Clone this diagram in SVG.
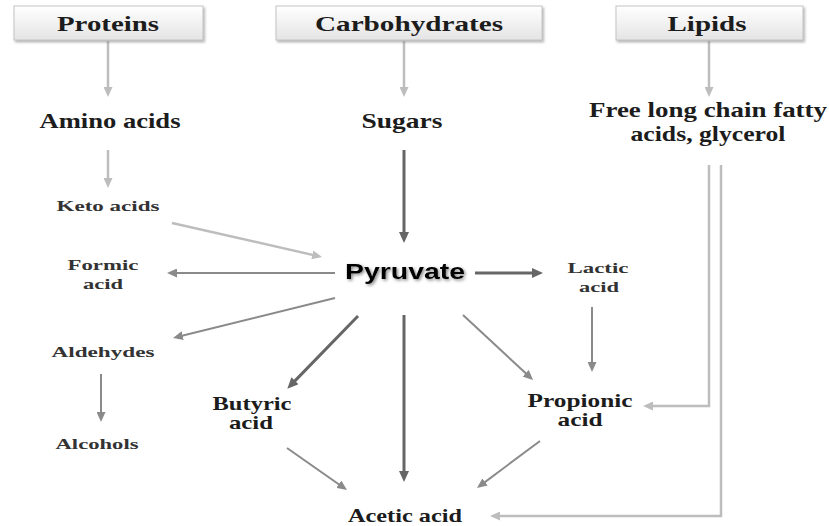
<svg xmlns="http://www.w3.org/2000/svg" width="829" height="526" viewBox="0 0 829 526">
<defs>
<linearGradient id="boxg" x1="0" y1="0" x2="0" y2="1">
<stop offset="0" stop-color="#ffffff"/>
<stop offset="1" stop-color="#e4e4e4"/>
</linearGradient>
<filter id="bshadow" x="-5%" y="-20%" width="110%" height="150%">
<feDropShadow dx="1.5" dy="2" stdDeviation="1.2" flood-color="#888" flood-opacity="0.6"/>
</filter>
<filter id="tshadow" x="-10%" y="-30%" width="120%" height="160%">
<feDropShadow dx="1.5" dy="1.5" stdDeviation="1.5" flood-color="#555" flood-opacity="0.7"/>
</filter>
<marker id="aL" markerUnits="userSpaceOnUse" markerWidth="10" markerHeight="9" refX="6" refY="4.5" orient="auto"><path d="M0,0 L10,4.5 L0,9 z" fill="#bdbdbd"/></marker>
<marker id="aM" markerUnits="userSpaceOnUse" markerWidth="10" markerHeight="9" refX="6" refY="4.5" orient="auto"><path d="M0,0 L10,4.5 L0,9 z" fill="#8a8a8a"/></marker>
<marker id="aD" markerUnits="userSpaceOnUse" markerWidth="11" markerHeight="10" refX="6" refY="5" orient="auto"><path d="M0,0 L11,5 L0,10 z" fill="#666"/></marker>
</defs>
<style>
.box{fill:url(#boxg);stroke:#c4c4c4;stroke-width:1;filter:url(#bshadow)}
.t{font-family:"Liberation Serif","Times New Roman",serif;font-weight:bold;fill:#1c1c1c;text-anchor:middle}
.big{font-size:22px}
.mid{font-size:19px}
.sm{font-size:15px;fill:#333}
.py{font-family:"Liberation Sans",Arial,sans-serif;font-weight:bold;font-size:22px;fill:#000;text-anchor:middle;filter:url(#tshadow)}
.cL{stroke:#bdbdbd;stroke-width:2.5;fill:none;marker-end:url(#aL)}
.cM{stroke:#8a8a8a;stroke-width:2;fill:none;marker-end:url(#aM)}
.cD{stroke:#666;stroke-width:3;fill:none;marker-end:url(#aD)}
</style>

<g id="connectors">
<line class="cL" x1="108" y1="41" x2="108" y2="93"/>
<line class="cL" x1="404" y1="41" x2="404" y2="93"/>
<line class="cL" x1="709" y1="41" x2="709" y2="93"/>
<line class="cL" x1="108" y1="150" x2="108" y2="184"/>
<line class="cL" x1="172" y1="223" x2="318.1" y2="256.1"/>
<path class="cL" stroke-width="2" d="M709,165 V406 H647"/>
<path class="cL" stroke-width="2" d="M721,165 V516 H494"/>
<line class="cM" x1="335" y1="273" x2="171" y2="273"/>
<line class="cM" x1="335" y1="298" x2="176.9" y2="337"/>
<line class="cM" x1="101" y1="374" x2="101" y2="418"/>
<line class="cM" x1="592" y1="307" x2="592" y2="368"/>
<line class="cM" x1="463" y1="315" x2="530.1" y2="377.3"/>
<line class="cM" x1="287" y1="448" x2="343.7" y2="487.7"/>
<line class="cM" x1="540" y1="441" x2="480.2" y2="485.6"/>
<line class="cD" x1="404" y1="150" x2="404" y2="238"/>
<line class="cD" x1="475" y1="273" x2="538" y2="273"/>
<line class="cD" x1="358" y1="316" x2="290.8" y2="385.1"/>
<line class="cD" x1="404" y1="315" x2="404" y2="477"/>
</g>

<g id="proteins"><rect class="box" x="14" y="6" width="189" height="34"/><text class="t big" x="108" y="31" textLength="102" lengthAdjust="spacingAndGlyphs">Proteins</text></g>
<g id="carbohydrates"><rect class="box" x="276" y="6" width="266" height="34"/><text class="t big" x="409" y="31" textLength="188" lengthAdjust="spacingAndGlyphs">Carbohydrates</text></g>
<g id="lipids"><rect class="box" x="616" y="6" width="187" height="34"/><text class="t big" x="707" y="31" textLength="79" lengthAdjust="spacingAndGlyphs">Lipids</text></g>

<g id="amino-acids"><text class="t big" x="110" y="128" textLength="141" lengthAdjust="spacingAndGlyphs">Amino acids</text></g>
<g id="sugars"><text class="t big" x="402" y="128" textLength="81" lengthAdjust="spacingAndGlyphs">Sugars</text></g>
<g id="fatty-acids"><text class="t big" x="708" y="117" textLength="238" lengthAdjust="spacingAndGlyphs">Free long chain fatty</text><text class="t big" x="708" y="141" textLength="155" lengthAdjust="spacingAndGlyphs">acids, glycerol</text></g>

<g id="keto-acids"><text class="t sm" x="108" y="211" textLength="103" lengthAdjust="spacingAndGlyphs">Keto acids</text></g>
<g id="formic-acid"><text class="t sm" x="103" y="270" textLength="71" lengthAdjust="spacingAndGlyphs">Formic</text><text class="t sm" x="103" y="289" textLength="40" lengthAdjust="spacingAndGlyphs">acid</text></g>
<g id="pyruvate"><text class="py" x="405" y="279" textLength="120" lengthAdjust="spacingAndGlyphs">Pyruvate</text></g>
<g id="lactic-acid"><text class="t sm" x="598" y="273" textLength="61" lengthAdjust="spacingAndGlyphs">Lactic</text><text class="t sm" x="599" y="292" textLength="40" lengthAdjust="spacingAndGlyphs">acid</text></g>
<g id="aldehydes"><text class="t sm" x="103" y="357" textLength="103" lengthAdjust="spacingAndGlyphs">Aldehydes</text></g>
<g id="alcohols"><text class="t sm" x="97" y="449" textLength="83" lengthAdjust="spacingAndGlyphs">Alcohols</text></g>
<g id="butyric-acid"><text class="t mid" x="252" y="410" textLength="79" lengthAdjust="spacingAndGlyphs">Butyric</text><text class="t mid" x="251" y="429" textLength="44" lengthAdjust="spacingAndGlyphs">acid</text></g>
<g id="propionic-acid"><text class="t mid" x="580" y="407" textLength="105" lengthAdjust="spacingAndGlyphs">Propionic</text><text class="t mid" x="580" y="426" textLength="45" lengthAdjust="spacingAndGlyphs">acid</text></g>
<g id="acetic-acid"><text class="t mid" x="405" y="522" textLength="114" lengthAdjust="spacingAndGlyphs">Acetic acid</text></g>
</svg>
